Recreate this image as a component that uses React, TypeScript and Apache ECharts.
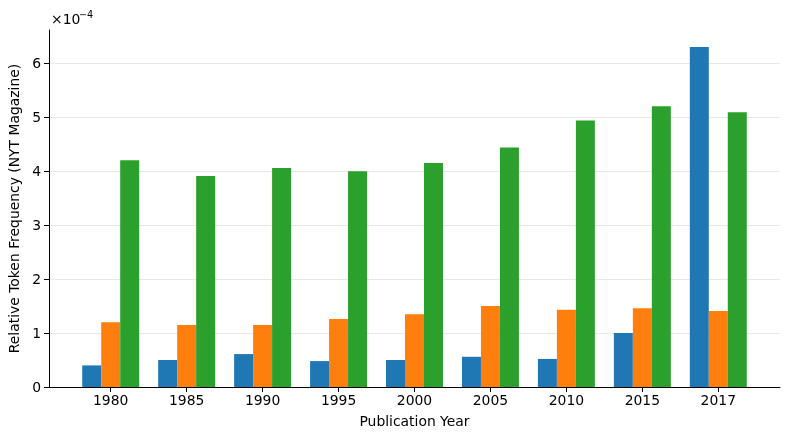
import React, { useEffect, useRef } from "react";
import * as echarts from "echarts";

const years = ["1980", "1985", "1990", "1995", "2000", "2005", "2010", "2015", "2017"];
const seriesA = [0.4, 0.5, 0.61, 0.48, 0.5, 0.56, 0.52, 1.0, 6.3];
const seriesB = [1.2, 1.15, 1.15, 1.26, 1.35, 1.5, 1.43, 1.46, 1.41];
const seriesC = [4.2, 3.91, 4.06, 4.0, 4.15, 4.44, 4.94, 5.2, 5.09];
const yTicks = [0, 1, 2, 3, 4, 5, 6];
const colors = ["#1f77b4", "#ff7f0e", "#2ca02c"];

const FONT = "DejaVu Sans";
const FS = 13.9;

export default function App() {
  const ref = useRef<HTMLDivElement>(null);
  useEffect(() => {
    if (!ref.current) return;
    const chart = echarts.init(ref.current, null, { renderer: "svg" });
    const idx = years.map((_, i) => i);
    const mk = (vals: number[], i: number) => ({
      type: "bar",
      data: vals.map((v, k) => [k, v]),
      barWidth: "25%",
      barGap: "0%",
      itemStyle: { color: colors[i] },
      emphasis: { disabled: true },
    });
    chart.setOption({
      animation: false,
      textStyle: { fontFamily: FONT },
      grid: { left: 49, right: 10, top: 30, bottom: 53, containLabel: false, outerBoundsMode: "none" },
      xAxis: {
        type: "value",
        min: -0.8125,
        max: 8.8125,
        name: "Publication Year",
        nameLocation: "middle",
        nameGap: 27,
        nameTextStyle: { fontSize: FS, color: "#000", fontFamily: FONT },
        axisLine: { show: true, onZero: false, lineStyle: { color: "#000", width: 1 } },
        axisTick: { show: true, customValues: idx, length: 5, lineStyle: { color: "#000" } },
        axisLabel: {
          customValues: idx,
          formatter: (v: number) => years[Math.round(v)] ?? "",
          fontSize: FS,
          color: "#000",
          margin: 6,
          fontFamily: FONT,
        },
        splitLine: { show: false },
      },
      yAxis: {
        type: "value",
        min: 0,
        max: 6.615,
        interval: 1,
        name: "Relative Token Frequency (NYT Magazine)",
        nameLocation: "middle",
        nameGap: 26,
        nameTextStyle: { fontSize: FS, color: "#000", fontFamily: FONT },
        axisLine: { show: true, onZero: false, lineStyle: { color: "#000", width: 1 } },
        axisTick: { show: true, customValues: yTicks, length: 5, lineStyle: { color: "#000" } },
        axisLabel: {
          customValues: yTicks,
          fontSize: FS,
          color: "#000",
          margin: 8,
          fontFamily: FONT,
        },
        splitLine: { show: true, lineStyle: { color: "#e8e8e8", width: 1 } },
      },
      series: [mk(seriesA, 0), mk(seriesB, 1), mk(seriesC, 2)],
      graphic: [
        { type: "text", left: 51, top: 12, style: { text: "×10", fontSize: FS, fill: "#000", fontFamily: FONT } },
        { type: "text", left: 79, top: 9, style: { text: "−4", fontSize: 9.7, fill: "#000", fontFamily: FONT } },
      ],
    });
    return () => chart.dispose();
  }, []);
  return <div ref={ref} style={{ position: "fixed", left: 0, top: 0, width: 790, height: 440 }} />;
}
